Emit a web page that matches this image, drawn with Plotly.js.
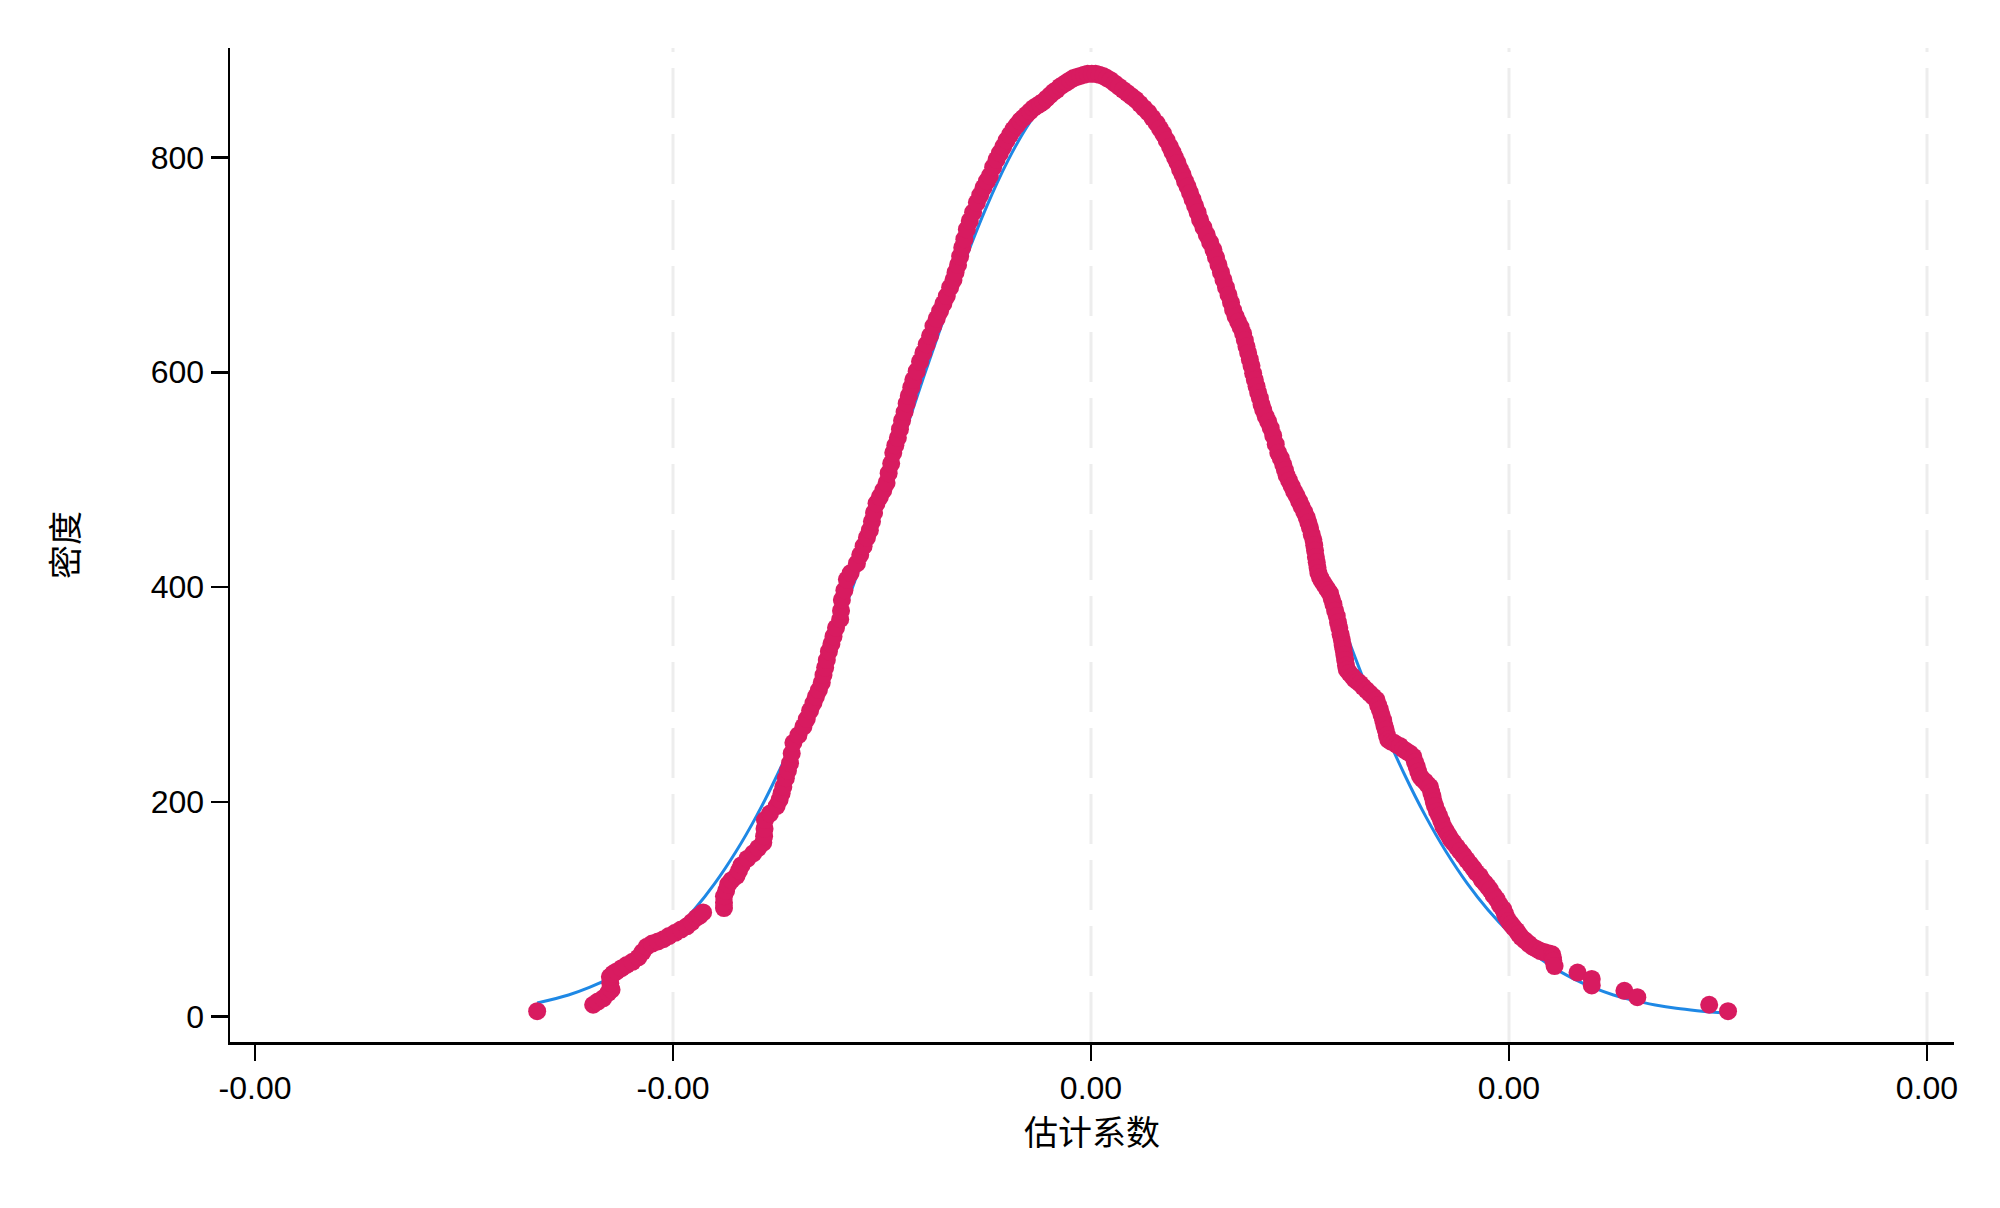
<!DOCTYPE html>
<html>
<head>
<meta charset="utf-8">
<script src="https://cdn.plot.ly/plotly-3.0.1.min.js"></script>
<style>
html,body{margin:0;padding:0;background:#ffffff;}
#chart{width:2000px;height:1208px;}
</style>
</head>
<body>
<div id="chart"></div>
<script>
// ---- tick labels and titles ----
const xTickVals = [-0.002, -0.001, 0, 0.001, 0.002];
const xTickText = ["-0.00", "-0.00", "0.00", "0.00", "0.00"];
const yTickVals = [0, 200, 400, 600, 800];
const yTickText = ["0", "200", "400", "600", "800"];
const xTitle = "估计系数";
const yTitle = "密度";

// ---- kernel density points (estimated coefficient, density) ----
const densityPoints = [
  [-0.001325,5],
  [-0.001191,11],[-0.00118,14],[-0.001167,17],[-0.001155,22],[-0.001147,25],[-0.00115,31],[-0.001151,37],
  [-0.001143,40],[-0.001135,42],[-0.001123,45],[-0.001111,48],[-0.001097,51],[-0.001083,55],[-0.001073,60],
  [-0.001063,65],[-0.00105,68],[-0.001036,70],[-0.001023,72],[-0.00101,75],[-0.000995,78],[-0.000981,81],
  [-0.000967,84],[-0.000955,88],[-0.000944,92],[-0.000936,94],[-0.000928,97],
  [-0.000878,101],[-0.000878,106],[-0.000878,112],[-0.000873,117],[-0.000868,123],[-0.00086,127],[-0.000848,131],
  [-0.000842,136],[-0.000836,141],[-0.000822,147],[-0.000808,152],[-0.000796,157],[-0.000784,162],[-0.000782,168],
  [-0.000781,175],[-0.00078,183],[-0.000768,189],[-0.000752,196],[-0.000745,202],[-0.00074,208],[-0.000736,214],
  [-0.00073,222],[-0.000725,229],[-0.00072,236],[-0.000716,245],[-0.000712,255],[-0.0007,262],[-0.000688,270],
  [-0.00068,277],[-0.000672,285],[-0.000664,292],[-0.000658,298],[-0.000651,304],[-0.000644,311],[-0.00064,318],
  [-0.000636,325],[-0.000632,332],[-0.000627,340],[-0.000621,347],[-0.000616,354],[-0.00061,362],[-0.0006,370],
  [-0.000598,378],[-0.000596,388],[-0.00059,397],[-0.000584,407],[-0.000575,413],[-0.00056,422],[-0.000552,430],
  [-0.000544,438],[-0.000536,446],[-0.000529,453],[-0.000524,461],[-0.000519,469],[-0.000513,478],[-0.000505,484],
  [-0.000497,490],[-0.000489,497],[-0.000484,506],[-0.000478,515],[-0.000473,525],[-0.000468,532],[-0.000462,539],
  [-0.000457,547],[-0.000452,555],[-0.000446,563],[-0.000441,571],[-0.000436,578],[-0.00043,586],[-0.000425,593],
  [-0.000417,601],[-0.000409,610],[-0.000401,618],[-0.000393,626],[-0.000385,634],[-0.000377,643],[-0.000369,650],
  [-0.000361,657],[-0.000353,664],[-0.000345,671],[-0.000337,679],[-0.000329,686],[-0.000324,693],[-0.000318,700],
  [-0.000313,708],[-0.000308,716],[-0.000303,724],
  [-0.000297,733],[-0.00029,741],[-0.000282,749],[-0.000273,758],[-0.000265,765],[-0.000257,772],[-0.000249,778],
  [-0.000242,783],[-0.000234,791],[-0.000226,798],[-0.000218,804],[-0.00021,810],[-0.000202,816],[-0.000194,821],
  [-0.000186,826],[-0.000178,830],[-0.00017,834],[-0.000162,837],[-0.000154,840],[-0.000146,843],[-0.000138,846],
  [-0.00013,848],[-0.000122,850],[-0.000114,852],[-0.000106,855],[-0.000098,858],[-0.00009,861],[-0.000082,863],
  [-0.000074,866],[-0.000066,868],[-0.000058,870],[-0.00005,872],[-0.000042,874],[-0.000034,875],[-0.000026,876],
  [-0.000017,877],[-0.000008,878],[0.000002,878],[0.000011,878],[0.00002,877],[0.000029,876],[0.000038,874],
  [0.000047,872],[0.000057,869],[0.000067,866],[0.000077,863],[0.000087,860],[0.000097,857],[0.000107,854],
  [0.000117,850],[0.000127,846],[0.000137,842],[0.000147,837],[0.000157,832],[0.000165,827],[0.000173,822],
  [0.000181,816],[0.000189,810],[0.000195,805],[0.000201,800],[0.000207,795],[0.000213,789],[0.000219,784],
  [0.000225,778],[0.000231,773],[0.000237,767],[0.000243,761],[0.000249,755],
  [0.000255,749],[0.000261,742],[0.000269,735],[0.000277,728],[0.000285,721],[0.000293,714],[0.000299,707],
  [0.000305,700],[0.000311,693],[0.000317,686],[0.000323,679],[0.000329,672],[0.000335,665],[0.00034,658],
  [0.000346,652],[0.000352,647],[0.000358,642],[0.000364,636],[0.000368,630],[0.000372,624],[0.000376,618],
  [0.00038,612],[0.000384,606],[0.000388,599],[0.000392,593],[0.000396,587],[0.0004,581],[0.000404,576],
  [0.000408,570],[0.000412,565],[0.000418,559],[0.000424,554],[0.00043,548],[0.000436,541],[0.000442,533],
  [0.000448,525],[0.000454,520],[0.00046,514],[0.000464,509],[0.000468,504],[0.000474,499],[0.00048,494],
  [0.000486,489],[0.000492,485],[0.000498,480],[0.000504,475],[0.00051,470],[0.000516,465],[0.00052,460],
  [0.000524,455],[0.000528,449],[0.000532,444],[0.000534,439],[0.000536,434],[0.000538,428],[0.00054,423],
  [0.000542,418],[0.000544,413],[0.000548,409],[0.000552,406],[0.000557,403],[0.000562,400],[0.000567,397],
  [0.000572,394],[0.000576,389],[0.00058,384],[0.000584,378],[0.000588,373],[0.000591,367],[0.000594,362],
  [0.000597,356],[0.0006,351],[0.000602,346],[0.000604,342],[0.000606,337],[0.000608,332],[0.00061,327],
  [0.000612,323],[0.000618,320],[0.000625,317],[0.000631,314],[0.000638,312],[0.000644,310],[0.000651,307],
  [0.000659,304],[0.000667,301],[0.000675,298],[0.000683,295],[0.000687,290],[0.000691,286],[0.000695,281],
  [0.000699,276],[0.000702,271],[0.000705,267],[0.000708,262],[0.000711,258],[0.000718,256],[0.000725,255],
  [0.000732,253],[0.000739,252],[0.000747,249],[0.000755,247],[0.000763,245],[0.000771,242],[0.000775,237],
  [0.000779,233],[0.000783,228],[0.000787,224],[0.000793,221],[0.000799,219],[0.000805,216],[0.000811,214],
  [0.000814,209],[0.000817,205],[0.00082,200],[0.000823,196],[0.000828,191],[0.000833,187],[0.000838,182],
  [0.000843,177],[0.000849,173],[0.000855,169],[0.000861,165],[0.000867,162],[0.000875,158],[0.000883,154],
  [0.000891,150],[0.000899,146],[0.000907,142],[0.000915,138],[0.000922,134],[0.00093,131],[0.000936,127],
  [0.000943,124],[0.000949,121],[0.000955,118],[0.000963,113],[0.000971,109],[0.000978,104],[0.000986,100],
  [0.00099,96],[0.000993,93],[0.000999,89],[0.001005,86],[0.001011,83],[0.001018,80],[0.001023,77],
  [0.001029,74],[0.001038,71],[0.001047,68],[0.001056,65],[0.001066,63],[0.001075,61],[0.001084,60],
  [0.001094,59],[0.001103,58],[0.001105,55],[0.001106,52],[0.001109,47],
  [0.001164,41],[0.001198,35],[0.001198,29],[0.001276,24],[0.001307,18],[0.001479,11],[0.001524,5]
];

// ---- normal density curve ----
const normalX = [-0.001325,-0.00125,-0.0012,-0.00115,-0.0011,-0.00105,-0.001,-0.00095,-0.0009,-0.00085,
  -0.0008,-0.00075,-0.0007,-0.00065,-0.0006,-0.00055,-0.0005,-0.00045,-0.0004,-0.00035,-0.0003,-0.00025,
  -0.0002,-0.00015,-0.0001,-0.00005,0,0.00005,0.0001,0.00015,0.0002,0.00025,0.0003,0.00035,0.0004,0.00045,
  0.0005,0.00055,0.0006,0.00065,0.0007,0.00075,0.0008,0.00085,0.0009,0.00095,0.001,0.00105,0.0011,0.00115,
  0.0012,0.00125,0.0013,0.00135,0.0014,0.00145,0.0015,0.001524];
const normalY = [12.6,20.1,27.1,36.0,47.2,61.2,78.4,99.2,124.0,153.2,
  186.9,225.4,268.6,316.1,367.6,422.4,479.5,537.8,596.0,652.4,705.7,754.1,
  796.2,830.6,856.1,871.7,877,871.7,856.1,830.6,796.2,754.1,705.7,652.4,596.0,537.8,
  479.5,422.4,367.6,316.1,268.6,225.4,186.9,153.2,124.0,99.2,78.4,61.2,47.2,36.0,
  27.1,20.1,14.8,10.8,7.7,5.5,3.8,3.2];

const dotX = densityPoints.map(p => p[0]);
const dotY = densityPoints.map(p => p[1]);

const traces = [
  {
    type: 'scatter', mode: 'lines', x: normalX, y: normalY,
    line: {color: '#1E88E5', width: 3, shape: 'spline', smoothing: 1},
    hoverinfo: 'skip'
  },
  {
    type: 'scatter', mode: 'markers', x: dotX, y: dotY,
    marker: {color: '#D81B60', size: 18, line: {width: 0}},
    hoverinfo: 'skip'
  }
];

const gridShapes = xTickVals.slice(1).map(v => ({
  type: 'line', xref: 'x', yref: 'paper', x0: v, x1: v, y0: 0, y1: 1,
  line: {color: '#EDEDED', width: 3, dash: '50px,16px'}, layer: 'below'
}));

const layout = {
  width: 2000, height: 1208,
  margin: {l: 230, r: 46, t: 48, b: 166, pad: 0},
  paper_bgcolor: '#ffffff', plot_bgcolor: '#ffffff',
  showlegend: false,
  font: {family: '"Liberation Sans", Arial, sans-serif', size: 32, color: '#000000'},
  xaxis: {
    range: [-0.0020598, 0.0020646],
    tickmode: 'array', tickvals: xTickVals, ticktext: xTickText,
    ticks: 'outside', ticklen: 16, tickwidth: 2.5, tickcolor: '#000000',
    showline: true, linecolor: '#000000', linewidth: 2.5,
    showgrid: false, zeroline: false,
    tickfont: {family: '"Liberation Sans", Arial, sans-serif', size: 32, color: '#000000'},
    title: {text: xTitle, standoff: 16,
      font: {family: '"Noto Sans CJK SC", sans-serif', size: 34, color: '#000000'}}
  },
  yaxis: {
    range: [-23.7, 902],
    tickmode: 'array', tickvals: yTickVals, ticktext: yTickText,
    ticks: 'outside', ticklen: 17, tickwidth: 2.5, tickcolor: '#000000',
    showline: true, linecolor: '#000000', linewidth: 2.5,
    showgrid: false, zeroline: false,
    tickfont: {family: '"Liberation Sans", Arial, sans-serif', size: 32, color: '#000000'},
    title: {text: yTitle, standoff: 62,
      font: {family: '"Noto Sans CJK SC", sans-serif', size: 34, color: '#000000'}}
  },
  shapes: gridShapes,
  hovermode: false
};

Plotly.newPlot('chart', traces, layout, {displayModeBar: false, staticPlot: true});
</script>
</body>
</html>
